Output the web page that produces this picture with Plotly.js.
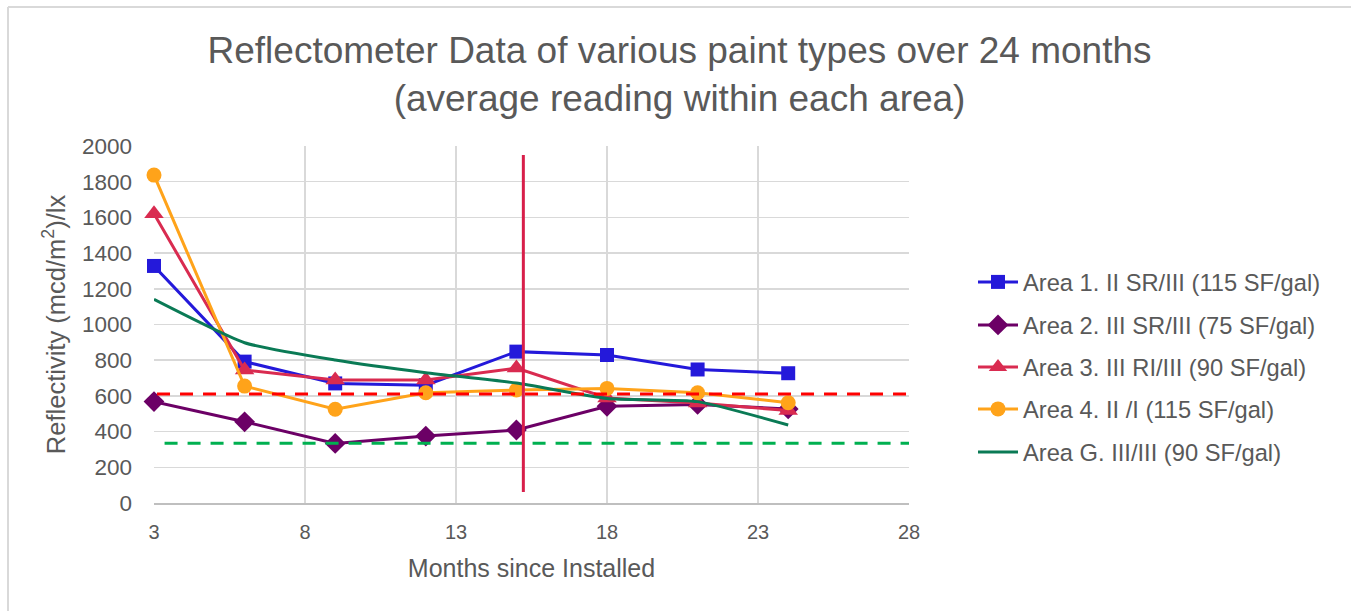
<!DOCTYPE html>
<html>
<head>
<meta charset="utf-8">
<script src="https://cdn.plot.ly/plotly-3.0.1.min.js"></script>
<style>html,body{margin:0;padding:0;background:#fff}#chart{width:1351px;height:611px}</style>
</head>
<body>
<div id="chart"></div>
<script>
// ---- data ----
const months = [3, 6, 9, 12, 15, 18, 21, 24];
const area1 = [1328, 792, 670, 660, 848, 829, 748, 727];
const area2 = [568, 455, 334, 375, 409, 542, 552, 527];
const area3 = [1620, 745, 689, 689, 756, 588, 560, 518];
const area4 = [1837, 655, 525, 618, 633, 642, 618, 562];
const areaG = [1141, 898, 801, 730, 672, 586, 568, 437];
const seriesNames = [
  "Area 1. II SR/III (115 SF/gal)",
  "Area 2. III SR/III (75 SF/gal)",
  "Area 3. III RI/III (90 SF/gal)",
  "Area 4. II /I (115 SF/gal)",
  "Area G. III/III (90 SF/gal)"
];
// reference lines
const redRefX = [3.1, 28];
const redRefY = [610, 610];
const greenRefX = [3.35, 28];
const greenRefY = [335, 335];
const vLineX = [15.23, 15.23];
const vLineY = [62, 1950];
const xTicks = [3, 8, 13, 18, 23, 28];
const yTicks = [0, 200, 400, 600, 800, 1000, 1200, 1400, 1600, 1800, 2000];

const FONT = "Liberation Sans, Arial, sans-serif";
const TXT = "#595959";

const traces = [
  {x: months, y: area1, name: seriesNames[0], mode: "lines+markers", legend: "legend", cliponaxis: false,
   line: {color: "#2419DA", width: 3}, marker: {symbol: "square", size: 14, color: "#2419DA"}},
  {x: months, y: area2, name: seriesNames[1], mode: "lines+markers", legend: "legend2", cliponaxis: false,
   line: {color: "#6C0066", width: 3}, marker: {symbol: "diamond", size: 16, color: "#6C0066"}},
  {x: months, y: area3, name: seriesNames[2], mode: "lines+markers", legend: "legend3", cliponaxis: false,
   line: {color: "#D92B50", width: 3}, marker: {symbol: "triangle-up", size: 17, color: "#D92B50"}},
  {x: months, y: area4, name: seriesNames[3], mode: "lines+markers", legend: "legend4", cliponaxis: false,
   line: {color: "#FFA31A", width: 3}, marker: {symbol: "circle", size: 15, color: "#FFA31A"}},
  {x: months, y: areaG, name: seriesNames[4], mode: "lines", legend: "legend5", cliponaxis: false,
   line: {color: "#0A7A55", width: 3, shape: "spline", smoothing: 0.5}},
  {x: redRefX, y: redRefY, mode: "lines", showlegend: false, hoverinfo: "skip",
   line: {color: "#FF0000", width: 3, dash: "13px,10px"}},
  {x: greenRefX, y: greenRefY, mode: "lines", showlegend: false, hoverinfo: "skip",
   line: {color: "#00B050", width: 3, dash: "13px,10px"}},
  {x: vLineX, y: vLineY, mode: "lines", showlegend: false, hoverinfo: "skip",
   line: {color: "#D81F4A", width: 3}}
];

const L = 154, R = 909, T = 146, B = 503;
const pw = R - L, ph = B - T;
function px2x(p) { return (p - L) / pw; }
function px2y(p) { return (B - p) / ph; }

const legendYs = [282, 325, 367, 409, 452];
const legendNames = ["legend", "legend2", "legend3", "legend4", "legend5"];

const layout = {
  width: 1351, height: 611,
  paper_bgcolor: "#ffffff", plot_bgcolor: "#ffffff",
  margin: {l: L, r: 1351 - R, t: T, b: 611 - B, pad: 0},
  font: {family: FONT, color: TXT, size: 18},
  title: {
    text: "Reflectometer Data of various paint types over 24 months<br>(average reading within each area)",
    font: {family: FONT, size: 37, color: TXT},
    x: 0.503, xanchor: "center", xref: "container",
    y: 1 - 63 / 611, yanchor: "middle", yref: "container"
  },
  xaxis: {
    range: [3, 28], tickvals: xTicks, ticktext: xTicks.map(String),
    showgrid: true, gridcolor: "#d9d9d9", gridwidth: 1.5,
    showline: true, linecolor: "#bfbfbf", linewidth: 1.5,
    zeroline: false, ticks: "", ticklabelstandoff: 10,
    tickfont: {family: FONT, size: 20, color: TXT},
    title: {text: "Months since Installed", font: {family: FONT, size: 25, color: TXT}, standoff: 18}
  },
  yaxis: {
    range: [0, 2000], tickvals: yTicks,
    showgrid: true, gridcolor: "#d9d9d9", gridwidth: 1.5,
    showline: false, zeroline: false, ticks: "", ticklabelstandoff: 21,
    tickfont: {family: FONT, size: 22.5, color: TXT},
    title: {text: "Reflectivity (mcd/m<sup>2</sup>)/lx", font: {family: FONT, size: 25.5, color: TXT}, standoff: 9}
  },
  shapes: [
    {type: "line", xref: "paper", yref: "paper", x0: px2x(8), x1: px2x(1351), y0: px2y(7), y1: px2y(7),
     line: {color: "#d9d9d9", width: 2}, layer: "below"},
    {type: "line", xref: "paper", yref: "paper", x0: px2x(8), x1: px2x(8), y0: px2y(7), y1: px2y(611),
     line: {color: "#d9d9d9", width: 2}, layer: "below"}
  ]
};
legendNames.forEach((ln, i) => {
  layout[ln] = {
    x: px2x(973), xanchor: "left", y: px2y(legendYs[i]), yanchor: "middle",
    xref: "paper", yref: "paper",
    bgcolor: "rgba(0,0,0,0)", borderwidth: 0,
    font: {family: FONT, size: 23.7, color: TXT},
    itemwidth: 40
  };
});

Plotly.newPlot("chart", traces, layout, {displayModeBar: false, staticPlot: true});
</script>
</body>
</html>
